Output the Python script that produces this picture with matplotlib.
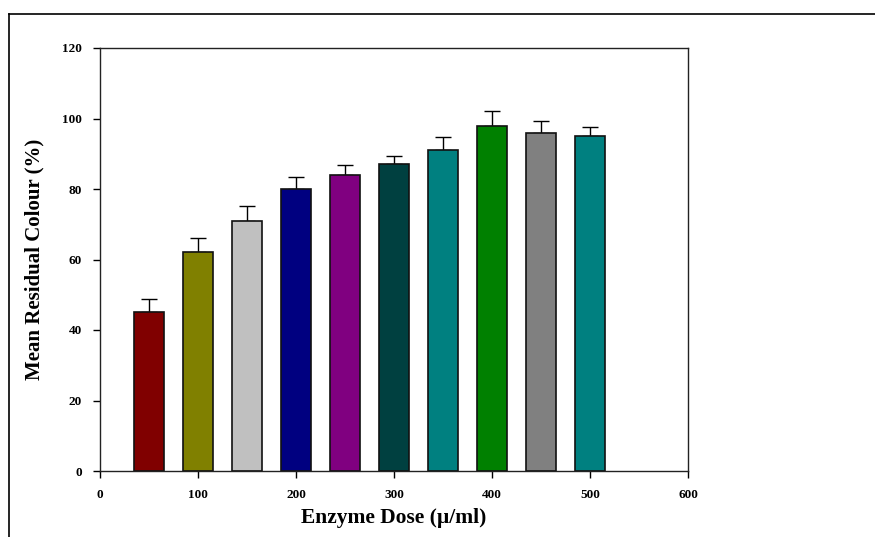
import numpy as np
from matplotlib import pyplot as plt
from matplotlib.lines import Line2D

# enzyme dose (u/ml) and mean residual colour (%)
doses = [50, 100, 150, 200, 250, 300, 350, 400, 450, 500]
colour = [45, 62, 71, 80, 84, 87, 91, 98, 96, 95]
errors = [3.8, 4.0, 4.2, 3.4, 2.8, 2.4, 3.8, 4.0, 3.3, 2.6]
bar_colors = ['#800000', '#808000', '#c0c0c0', '#000080', '#800080',
              '#004040', '#008080', '#008000', '#808080', '#008080']
x_ticks = [0, 100, 200, 300, 400, 500, 600]
y_ticks = [0, 20, 40, 60, 80, 100, 120]


def main():
    plt.rcParams['font.family'] = ['Liberation Serif', 'DejaVu Serif']
    fig = plt.figure(figsize=(8.75, 5.37), dpi=100)
    ax = fig.add_axes([100 / 875, 1 - 471 / 537, 588 / 875, 423 / 537])

    ax.bar(doses, colour, width=30, color=bar_colors, edgecolor='#111111',
           linewidth=1.2, zorder=2)
    ax.errorbar(doses, colour, yerr=[np.zeros(len(errors)), errors], fmt='none',
                ecolor='black', elinewidth=1, capsize=5.5, capthick=1, zorder=1)

    ax.set_xlim(0, 600)
    ax.set_ylim(0, 120)
    ax.set_xticks(x_ticks)
    ax.set_yticks(y_ticks)
    ax.tick_params(direction='out', length=5, width=1, labelsize=9.5, pad=8)
    for lab in ax.get_xticklabels() + ax.get_yticklabels():
        lab.set_fontweight('bold')
    for sp in ax.spines.values():
        sp.set_linewidth(1)
        sp.set_color('#222222')

    ax.set_xlabel('Enzyme Dose (\u00b5/ml)', fontsize=15.5, fontweight='bold', labelpad=5)
    ax.set_ylabel('Mean Residual Colour (%)', fontsize=15, fontweight='bold', labelpad=13)

    # outer frame lines (top and left)
    fig.add_artist(Line2D([8.5 / 875, 1], [1 - 13.5 / 537, 1 - 13.5 / 537],
                          transform=fig.transFigure, color='black', linewidth=1.2))
    fig.add_artist(Line2D([8.5 / 875, 8.5 / 875], [0, 1 - 13.5 / 537],
                          transform=fig.transFigure, color='black', linewidth=1.2))

    plt.savefig('out.png', dpi=100)
    plt.close()


if __name__ == '__main__':
    main()
